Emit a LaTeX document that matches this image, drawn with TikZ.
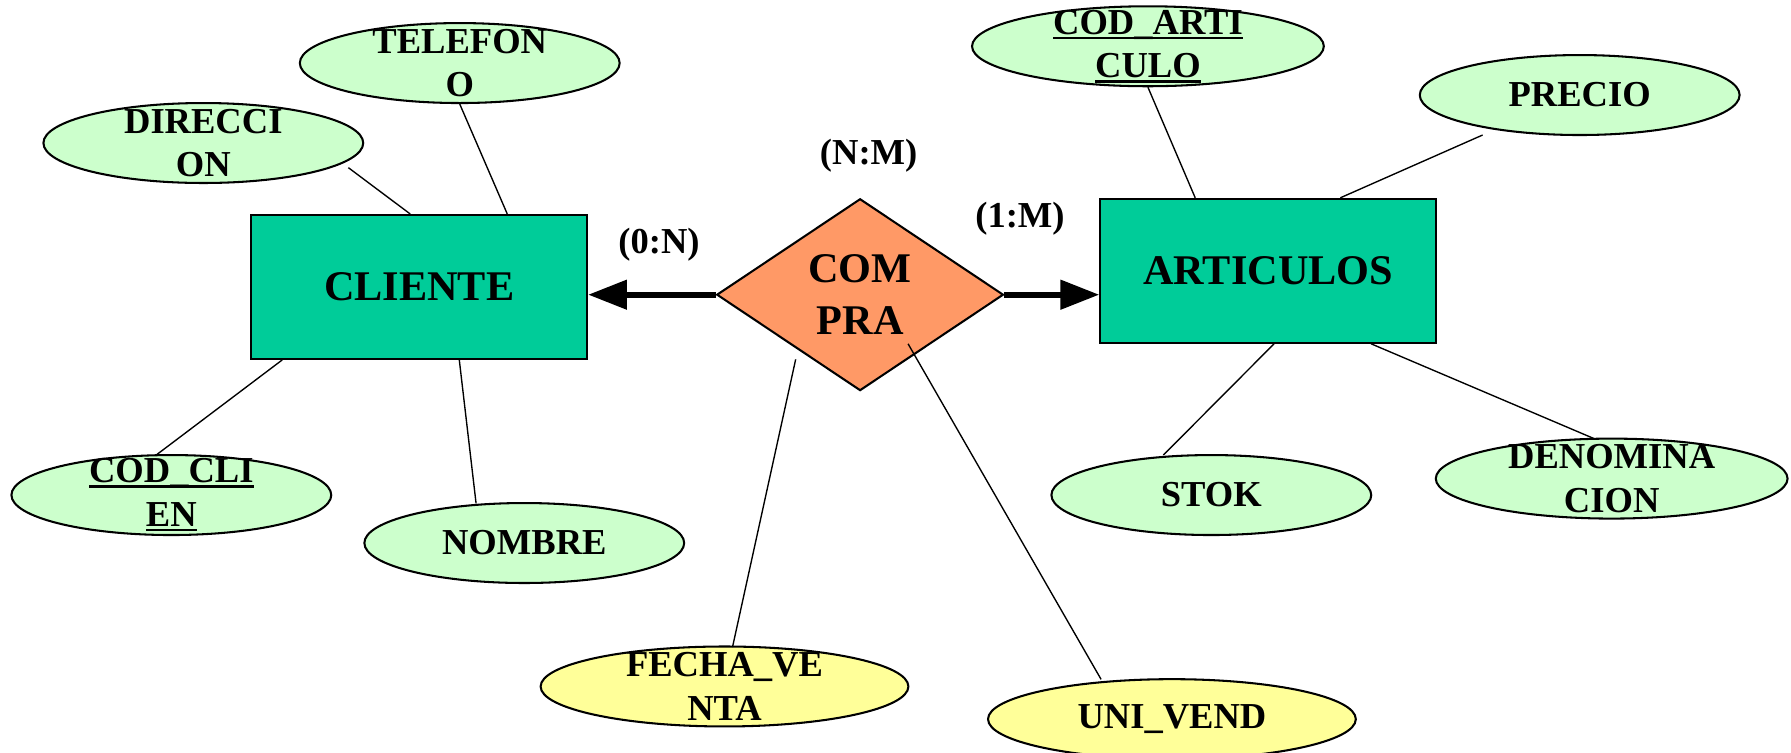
\documentclass[tikz,border=0pt]{standalone}
\usepackage{fontspec}
\setmainfont{Liberation Serif}
\usetikzlibrary{shapes.geometric,arrows.meta}
\definecolor{entfill}{HTML}{00CC99}
\definecolor{attfill}{HTML}{CCFFCC}
\definecolor{relfill}{HTML}{FF9966}
\definecolor{relattfill}{HTML}{FFFF99}
% underlined key attribute text with a heavier rule
\newcommand{\keyul}[1]{\leavevmode\setbox0\hbox{#1}\rlap{\copy0}\rule[-2.2pt]{\wd0}{1.1pt}}
\begin{document}
\begin{tikzpicture}[x=0.5pt,y=-0.5pt,
  entity/.style={draw,line width=0.9pt,fill=entfill,minimum width=147pt,minimum height=63pt,
    inner sep=0pt,font=\fontsize{18.5}{23}\selectfont\bfseries},
  attrib/.style={ellipse,draw,line width=0.9pt,fill=attfill,minimum width=140pt,
    minimum height=35pt,inner sep=0pt},
  wideattrib/.style={attrib,minimum width=154pt},
  relattrib/.style={attrib,fill=relattfill,minimum width=161pt},
  lbl/.style={align=center,inner sep=0pt,font=\fontsize{16}{19}\selectfont\bfseries},
  relation/.style={diamond,draw,line width=0.9pt,fill=relfill,minimum width=125.5pt,
    minimum height=84pt,inner sep=0pt},
  link/.style={line width=0.6pt},
  card/.style={font=\fontsize{16}{19}\selectfont\bfseries,inner sep=0pt},
  relarrow/.style={line width=2.6pt,-{Triangle[length=17pt,width=12.5pt]}}
]
\useasboundingbox (0,0) rectangle (1568,659);

% entities and relationship
\node[entity] (cli) at (367,251.2) {CLIENTE};
\node[entity] (art) at (1110.3,237.1) {ARTICULOS};
\node[relation,label={[name=comt,lbl,font=\fontsize{18.5}{23}\selectfont\bfseries]center:{COM\\PRA}}] (com) at (753,258) {};

% attributes of CLIENTE
\node[attrib,label={[name=telt,lbl]center:{TELEFON\\O}}] (tel) at (402.5,55.2) {};
\node[attrib,label={[name=dirt,lbl]center:{DIRECCI\\ON}}] (dir) at (178,125.2) {};
\node[attrib,label={[name=codclit,lbl]center:{\keyul{COD\_CLI}\\\keyul{EN}}}] (codcli) at (150,433.4) {};
\node[attrib,label={[name=nomt,lbl]center:{NOMBRE}}] (nom) at (459,475.4) {};

% attributes of ARTICULOS
\node[wideattrib,label={[name=codartt,lbl]center:{\keyul{COD\_ARTI}\\\keyul{CULO}}}] (codart) at (1005,40.5) {};
\node[attrib,label={[name=pret,lbl]center:{PRECIO}}] (pre) at (1383,83.2) {};
\node[attrib,label={[name=stokt,lbl]center:{STOK}}] (stok) at (1060.5,433.4) {};
\node[wideattrib,label={[name=denot,lbl]center:{DENOMINA\\CION}}] (deno) at (1411,419) {};

% attributes of COMPRA
\node[relattrib,label={[name=fechat,lbl]center:{FECHA\_VE\\NTA}}] (fecha) at (634.3,601) {};
\node[relattrib,label={[name=unit,lbl]center:{UNI\_VEND}}] (uni) at (1026,629.6) {};

% attribute links
\draw[link] ([shift={(127,21.6)}]dir.center) -- ([shift={(140,0)}]cli.north west);
\draw[link] (tel.south) -- ([shift={(225,0)}]cli.north west);
\draw[link] ([shift={(28,0)}]cli.south west) -- ([shift={(-13.3,-35)}]codcli.center);
\draw[link] ([shift={(183,0)}]cli.south west) -- ([shift={(-42.2,-34.7)}]nom.center);
\draw[link] (codart.south) -- ([shift={(84,0)}]art.north west);
\draw[link] ([shift={(-85,35)}]pre.center) -- ([shift={(211,0)}]art.north west);
\draw[link] ([shift={(153,0)}]art.south west) -- ([shift={(-42,-35)}]stok.center);
\draw[link] ([shift={(238,0)}]art.south west) -- ([shift={(-14,-34.4)}]deno.center);
\draw[link] ([shift={(-56.4,56.6)}]com.center) -- ([shift={(7,-34.5)}]fecha.center);
\draw[link] ([shift={(42,43)}]com.center) -- ([shift={(-62,-34.8)}]uni.center);

% relationship arrows
\draw[relarrow] (com.west) -- (com.west -| cli.east);
\draw[relarrow] (com.east) -- (com.east -| art.west);

% cardinalities
\node[card] (c0n) at (577,214) {(0:N)};
\node[card] (cnm) at (760.5,136.4) {(N:M)};
\node[card] (c1m) at (893,191.5) {(1:M)};
\end{tikzpicture}
\end{document}
